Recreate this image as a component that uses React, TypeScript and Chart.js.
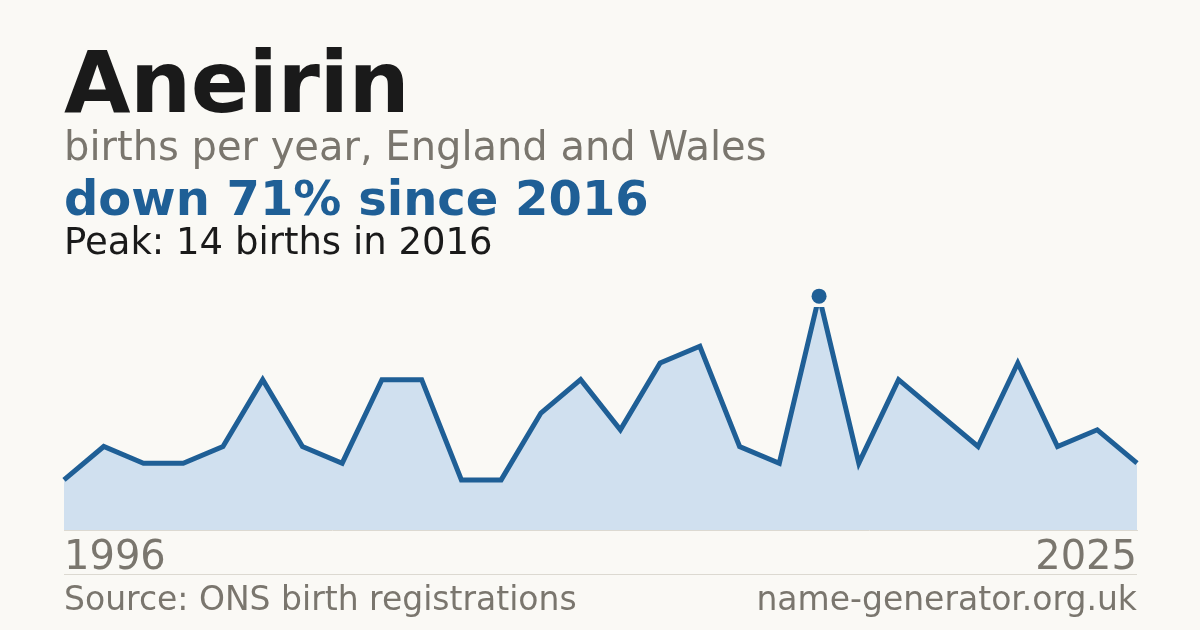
import { useEffect, useRef } from 'react';
import { Chart, registerables } from 'chart.js';

Chart.register(...registerables);

// years with a published count (two years suppressed)
const years = [
  '1996', '1997', '1998', '1999', '2000', '2001', '2002', '2003', '2004', '2005',
  '2007', '2008', '2009', '2010', '2011', '2012', '2013', '2014', '2015', '2016',
  '2017', '2018', '2019', '2020', '2022', '2023', '2024', '2025',
];
const births = [
  3, 5, 4, 4, 5, 9, 5, 4, 9, 9,
  3, 3, 7, 9, 6, 10, 11, 5, 4, 14,
  4, 9, 7, 5, 10, 5, 6, 4,
];
const peakYear = '2016';

const FONT = '"DejaVu Sans", Verdana, sans-serif';
const BG = '#faf9f5';
const BLUE = '#1f5f96';
const GREY = '#7a766e';

// the peak dot sits above the (clipped) plot area, so draw it after the datasets
const peakDot = {
  id: 'peakDot',
  afterDatasetsDraw(chart: any) {
    const i = years.indexOf(peakYear);
    const x = chart.scales.x.getPixelForValue(i);
    const y = chart.scales.y.getPixelForValue(births[i]);
    const ctx = chart.ctx;
    ctx.save();
    ctx.fillStyle = BLUE;
    ctx.beginPath();
    ctx.arc(x, y, 7.5, 0, Math.PI * 2);
    ctx.fill();
    ctx.restore();
  },
};

export default function App() {
  const canvas = useRef<HTMLCanvasElement>(null);

  useEffect(() => {
    const current = canvas.current;
    if (!current) return;
    const chart = new Chart(current, {
      type: 'line',
      data: {
        labels: years,
        datasets: [
          {
            data: births,
            borderColor: BLUE,
            borderWidth: 5,
            backgroundColor: '#d0e0ef',
            fill: 'origin',
            pointRadius: 0,
            tension: 0,
          },
        ],
      },
      options: {
        animation: false,
        responsive: false,
        events: [],
        layout: { padding: { left: 64, right: 63, top: 307, bottom: 42 } },
        plugins: { legend: { display: false }, tooltip: { enabled: false } },
        scales: {
          x: {
            offset: false,
            grid: { display: false, drawTicks: false },
            border: { display: true, color: '#dcd9d1', width: 1 },
            ticks: {
              autoSkip: false,
              maxRotation: 0,
              align: 'inner',
              padding: 5,
              color: GREY,
              font: { family: FONT, size: 40 },
              callback: (_v: any, i: number) =>
                i === 0 || i === years.length - 1 ? years[i] : '',
            },
          },
          y: { display: false, min: 0, max: 13.35 },
        },
      },
      plugins: [peakDot],
    });
    return () => chart.destroy();
  }, []);

  const text = (top: number, size: number, color: string, bold: boolean, extra: any = {}) => ({
    position: 'absolute' as const,
    top,
    left: 64,
    fontFamily: FONT,
    fontSize: size,
    lineHeight: 1,
    color,
    fontWeight: bold ? 700 : 400,
    whiteSpace: 'nowrap' as const,
    ...extra,
  });

  return (
    <div style={{ position: 'fixed', inset: 0, background: BG }}>
      <div style={{ position: 'relative', width: 1200, height: 630 }}>
        <canvas ref={canvas} width={1200} height={630} style={{ position: 'absolute', left: 0, top: 0 }} />
        <div style={text(39, 86, '#1a1a1a', true, { letterSpacing: -0.5 })}>Aneirin</div>
        <div style={text(126, 40, GREY, false)}>births per year, England and Wales</div>
        <div style={text(174, 48, BLUE, true)}>down 71% since 2016</div>
        <div style={text(223, 37, '#1a1a1a', false)}>Peak: 14 births in 2016</div>
        <div style={{ position: 'absolute', left: 64, top: 574, width: 1073, height: 1, background: '#dcd9d1' }} />
        <div style={text(582, 33, GREY, false)}>Source: ONS birth registrations</div>
        <div style={text(582, 33, GREY, false, { left: 'auto', right: 63 })}>name-generator.org.uk</div>
      </div>
    </div>
  );
}
